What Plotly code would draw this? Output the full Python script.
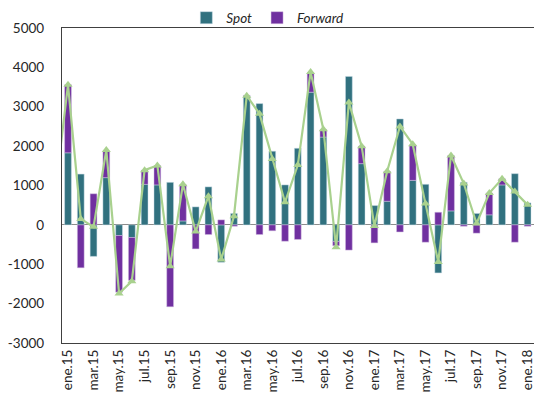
import plotly.graph_objects as go

months = ["ene.15","feb.15","mar.15","abr.15","may.15","jun.15","jul.15","ago.15","sep.15","oct.15","nov.15","dic.15",
          "ene.16","feb.16","mar.16","abr.16","may.16","jun.16","jul.16","ago.16","sep.16","oct.16","nov.16","dic.16",
          "ene.17","feb.17","mar.17","abr.17","may.17","jun.17","jul.17","ago.17","sep.17","oct.17","nov.17","dic.17",
          "ene.18"]
prev_month = "dic.14"

spot = [1830, 1290, -800, 1200, -270, -320, 1030, 1015, 1080, 100, 457, 965,
        -950, 290, 3280, 3080, 1870, 1015, 1945, 3370, 2230, -420, 3770, 1555,
        490, 600, 2690, 1130, 1030, -1220, 355, 1080, 290, 255, 1015, 1300,
        558]
forward = [1730, -1090, 790, 670, -1440, -1090, 360, 490, -2080, 920, -610, -245,
           127, -35, 10, -245, -150, -415, -370, 490, 190, -110, -640, 445,
           -457, 760, -180, 900, -440, 320, 1405, -35, -210, 555, 155, -440,
           -35]
total_prev = 830
total = [3560, 150, -50, 1900, -1740, -1430, 1390, 1510, -1050, 1030, -170, 730,
         -880, 220, 3280, 2820, 1675, 575, 1520, 3880, 2430, -570, 3110, 2000,
         -30, 1360, 2500, 2050, 540, -940, 1760, 1050, 35, 810, 1170, 845,
         508]

tick_labels = months[::2]
y_ticks = [-3000, -2000, -1000, 0, 1000, 2000, 3000, 4000, 5000]

FONT = "Lato, Carlito, 'Liberation Sans', sans-serif"
TEAL = "#31717f"
PURPLE = "#7030a0"
GREEN = "#a9d18e"

fig = go.Figure()
fig.add_trace(go.Bar(x=months, y=spot, name="Spot", marker=dict(color=TEAL, line=dict(color="rgba(200,220,230,0.8)", width=0.6))))
fig.add_trace(go.Bar(x=months, y=forward, name="Forward", marker=dict(color=PURPLE, line=dict(color="rgba(210,190,225,0.8)", width=0.6))))
fig.add_trace(go.Scatter(x=[prev_month] + months, y=[total_prev] + total, mode="lines+markers",
                         line=dict(color=GREEN, width=2.2),
                         marker=dict(symbol="triangle-up", size=8, color=GREEN),
                         showlegend=False, cliponaxis=True))

fig.update_layout(
    width=534, height=401,
    margin=dict(l=62, r=0, t=28, b=58, autoexpand=False),
    paper_bgcolor="white", plot_bgcolor="white",
    barmode="relative", bargap=0.47,
    font=dict(family=FONT, size=13, color="#262626"),
    showlegend=True,
    legend=dict(orientation="h", x=0.435, xanchor="center", y=1.032, yanchor="middle",
                font=dict(size=13.5, style="italic", color="#262626"),
                itemwidth=30, traceorder="normal", bgcolor="rgba(0,0,0,0)"),
    xaxis=dict(type="category", categoryorder="array", categoryarray=[prev_month] + months,
               range=[0.53, 37.5], tickmode="array", tickvals=tick_labels, ticktext=tick_labels,
               tickangle=-90, tickfont=dict(size=13.5), showline=True, linecolor="#404040", linewidth=1.3,
               mirror=True, showgrid=False, ticks="", automargin=False),
    yaxis=dict(range=[-3000, 5000], tickvals=y_ticks, ticktext=[str(v) for v in y_ticks],
               showgrid=False, zeroline=True, zerolinecolor="#8c8c8c", zerolinewidth=1.3,
               showline=True, linecolor="#404040", linewidth=1.3, mirror=True, automargin=False,
               ticks="", ticklabelstandoff=14, tickfont=dict(size=13.5)),
)

fig.write_html("out.html", config={"displayModeBar": False},
               post_script="document.body.style.margin='0';document.body.style.overflow='hidden';")
